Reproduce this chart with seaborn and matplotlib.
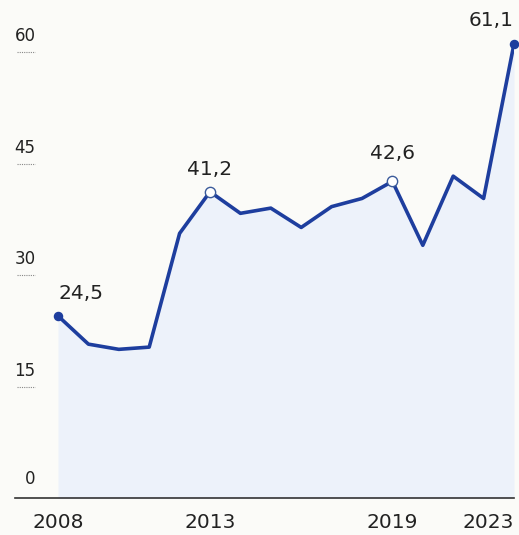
import matplotlib
matplotlib.use("Agg")
import matplotlib.pyplot as plt
import matplotlib.transforms as mtransforms
import seaborn as sns
import pandas as pd

years = list(range(2008, 2024))
values = [24.5, 20.7, 20.0, 20.3, 35.6, 41.2, 38.3, 39.0, 36.4, 39.2, 40.3, 42.6, 34.0, 43.3, 40.3, 61.1]
label_years = [2008, 2013, 2019, 2023]
label_texts = ["24,5", "41,2", "42,6", "61,1"]
hollow_years = [2013, 2019]
filled_years = [2008, 2023]
xtick_years = [2008, 2013, 2019, 2023]
ytick_values = [0, 15, 30, 45, 60]

LINE = "#1e3e9e"
FILL = "#edf2fa"
BG = "#fbfbf8"
TXT = "#222222"

df = pd.DataFrame({"year": years, "value": values})

sns.set_theme(style="white")
plt.rcParams["font.family"] = ["DejaVu Sans"]

fig = plt.figure(figsize=(5.19, 5.35), dpi=100, facecolor=BG)
ax = fig.add_axes([15 / 519, 37 / 535, 499 / 519, 498 / 535])
ax.set_facecolor(BG)

ax.fill_between(df["year"], df["value"], 0, color=FILL, zorder=1, linewidth=0)
sns.lineplot(data=df, x="year", y="value", ax=ax, color=LINE, linewidth=2.6, zorder=3)

fd = df[df["year"].isin(filled_years)]
ax.scatter(fd["year"], fd["value"], s=34, color=LINE, zorder=4, clip_on=False)
hd = df[df["year"].isin(hollow_years)]
ax.scatter(hd["year"], hd["value"], s=55, facecolor="white", edgecolor="#3a5a9a",
           linewidth=1.0, zorder=5)

px_per_year = 30.4
ax.set_xlim(2008 - 43 / px_per_year, 2023)
ax.set_ylim(0, 67.0)

for s in ["top", "right", "left"]:
    ax.spines[s].set_visible(False)
ax.spines["bottom"].set_color("#333333")
ax.spines["bottom"].set_linewidth(1.2)

ax.set_xticks(xtick_years)
ax.set_xticklabels([str(y) for y in xtick_years])
ax.tick_params(axis="x", direction="in", length=8, width=1.2, color="#333333",
               labelsize=14.5, labelcolor=TXT, pad=11)
for lbl in ax.get_xticklabels():
    if lbl.get_text() == "2023":
        lbl.set_horizontalalignment("right")
ax.set_yticks([])
ax.set_xlabel("")
ax.set_ylabel("")

trans = mtransforms.blended_transform_factory(ax.transAxes, ax.transData)
for v in ytick_values:
    ax.annotate(str(v), xy=(0.041, v), xycoords=trans, xytext=(0, 5 if v > 0 else 7),
                textcoords="offset points", ha="right", va="bottom",
                fontsize=12, color=TXT)
    if v > 0:
        ax.plot([0.004, 0.041], [v, v], transform=trans, color="#888888",
                linestyle=(0, (1, 1)), linewidth=0.8)

offsets = {2008: (0, 16, "left"), 2013: (0, 16, "center"), 2019: (0, 20, "center"), 2023: (0, 17, "right")}
for yr, txt in zip(label_years, label_texts):
    v = df.loc[df["year"] == yr, "value"].iloc[0]
    dx, dy, ha = offsets[yr]
    ax.annotate(txt, xy=(yr, v), xytext=(dx, dy), textcoords="offset points",
                ha=ha, va="center", fontsize=14.5, color=TXT)

fig.savefig("out.png", dpi=100, facecolor=BG)
